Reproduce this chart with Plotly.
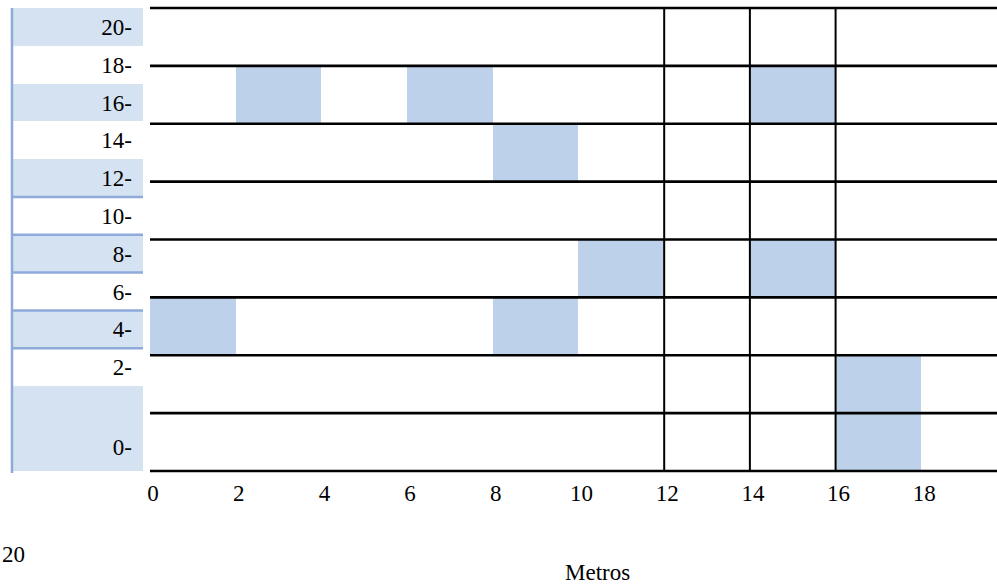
import plotly.graph_objects as go

# ---- data -------------------------------------------------------------
x_ticks = [0, 2, 4, 6, 8, 10, 12, 14, 16, 18]          # metres along bottom
y_labels = [20, 18, 16, 14, 12, 10, 8, 6, 4, 2, 0]      # left scale labels
ruled_labels = [12, 10, 8, 6, 4]                        # left rows with a rule below
# shaded cells: lower-left corner (metres), each cell 2 x 2
cell_x = [2, 6, 14, 8, 10, 14, 0, 8, 16, 16]
cell_y = [12, 12, 12, 10, 6, 6, 4, 4, 2, 0]
grid_rows = [0, 2, 4, 6, 8, 10, 12, 14, 16]             # horizontal rules
vline_x = [12, 14, 16]                                  # vertical rules
cell_size = 2

FONT = "Liberation Serif"
W, H = 997, 585
T, B = 6, 112
PH = H - T - B
CELL_BLUE = "#BDD1EB"
BAND_BLUE = "#D4E2F1"
RULE_BLUE = "#8EAADB"

fig = go.Figure()

# ---- left label panel (axis x2 / y2) -----------------------------------
band_top = max(y_labels) + 1
band_bottom = -3.497
band_base, band_h, band_col = [], [], []
for i, v in enumerate(y_labels):
    lo = v - 1 if v != min(y_labels) else band_bottom
    hi = v + 1
    band_base.append(lo)
    band_h.append(hi - lo)
    band_col.append(BAND_BLUE if i % 2 == 0 else "rgba(0,0,0,0)")
fig.add_trace(go.Bar(
    x=[77.5] * len(y_labels), y=band_h, base=band_base, width=131,
    marker=dict(color=band_col, line=dict(width=0)),
    xaxis="x2", yaxis="y2", hoverinfo="skip", showlegend=False))

rx, ry = [], []
for v in ruled_labels:
    rx += [12, 143, None]
    ry += [v - 1, v - 1, None]
fig.add_trace(go.Scatter(x=rx, y=ry, mode="lines",
                         line=dict(color=RULE_BLUE, width=2.5),
                         xaxis="x2", yaxis="y2", hoverinfo="skip", showlegend=False))
fig.add_trace(go.Scatter(x=[12, 12], y=[band_bottom - 0.1, band_top], mode="lines",
                         line=dict(color=RULE_BLUE, width=2.5),
                         xaxis="x2", yaxis="y2", hoverinfo="skip", showlegend=False))

# ---- main grid (axis x / y) -------------------------------------------
fig.add_trace(go.Bar(
    x=[c + cell_size / 2 for c in cell_x], y=[cell_size] * len(cell_y), base=cell_y,
    width=cell_size, marker=dict(color=CELL_BLUE, line=dict(width=0)),
    hoverinfo="skip", showlegend=False))

x_end = 19.767
hx, hy = [], []
for r in grid_rows:
    hx += [0, x_end + 1, None]
    hy += [r, r, None]
fig.add_trace(go.Scatter(x=hx, y=hy, mode="lines", line=dict(color="black", width=2.7),
                         hoverinfo="skip", showlegend=False))
vx, vy = [], []
for c in vline_x:
    vx += [c, c, None]
    vy += [min(grid_rows), max(grid_rows), None]
fig.add_trace(go.Scatter(x=vx, y=vy, mode="lines", line=dict(color="black", width=2),
                         hoverinfo="skip", showlegend=False))

pad = 2 / 28.9375
fig.update_layout(
    width=W, height=H,
    margin=dict(l=0, r=0, t=T, b=B, autoexpand=False),
    paper_bgcolor="white", plot_bgcolor="rgba(0,0,0,0)",
    barmode="overlay", bargap=0,
    font=dict(family=FONT, size=24, color="black"),
    xaxis=dict(domain=[150 / W, 1], range=[0, x_end], tickvals=x_ticks,
               ticktext=[str(t) for t in x_ticks], ticks="", showgrid=False,
               zeroline=False, showline=False, tickfont=dict(size=23),
               ticklabelstandoff=4, ticklabelshift=3, anchor="y"),
    yaxis=dict(domain=[0, 1], range=[-pad, 16 + pad], showticklabels=False,
               showgrid=False, zeroline=False, showline=False, ticks="",
               anchor="x"),
    xaxis2=dict(domain=[0, 143 / W], range=[0, 143], visible=False, anchor="y2"),
    yaxis2=dict(domain=[0, 1], range=[-3.603, 21.106], anchor="free",
                position=132 / W, side="left",
                tickvals=[v if v != 0 else -2.23 for v in y_labels],
                ticktext=[f"{v}-" for v in y_labels],
                ticks="", showgrid=False, zeroline=False, showline=False,
                tickfont=dict(size=23)),
    annotations=[
        dict(text="20", x=0, y=(H - B - 554) / PH, xref="paper", yref="paper",
             xanchor="left", yanchor="middle", showarrow=False,
             font=dict(size=23)),
        dict(text="Metros", x=597 / W, y=(H - B - 572) / PH, xref="paper", yref="paper",
             xanchor="center", yanchor="middle", showarrow=False,
             font=dict(size=23)),
    ],
)

fig.write_html("out.html", config={"displayModeBar": False},
               post_script="document.body.style.margin='0';")
